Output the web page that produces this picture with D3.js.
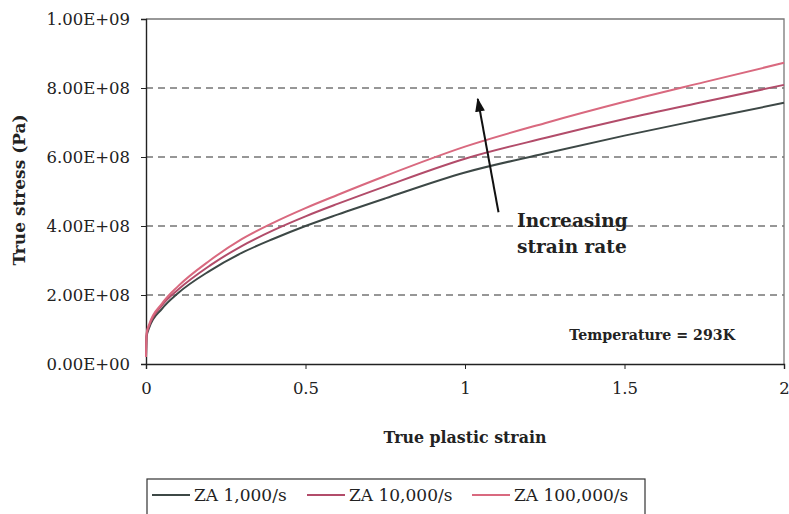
<!DOCTYPE html>
<html>
<head>
<meta charset="utf-8">
<script src="https://cdn.jsdelivr.net/npm/d3@7"></script>
<style>
  body { margin: 0; background: #fff; }
  svg { display: block; }
  text { font-family: "DejaVu Serif", "Liberation Serif", serif; fill: #222; }
</style>
</head>
<body>
<main></main>
<script>
// true plastic strain values
const strain = [0, 0.002, 0.01, 0.05, 0.1, 0.2, 0.3, 0.4, 0.5, 0.6, 0.75, 1.0, 1.25, 1.5, 1.75, 2.0];
// true stress (Pa)
const za1000 = [0.2e8, 0.8e8, 1.05e8, 1.6e8, 2.05e8, 2.7e8, 3.22e8, 3.63e8, 4.0e8, 4.33e8, 4.8e8, 5.55e8, 6.1e8, 6.62e8, 7.1e8, 7.57e8];
const za10000 = [0.2e8, 0.85e8, 1.1e8, 1.7e8, 2.15e8, 2.85e8, 3.42e8, 3.88e8, 4.28e8, 4.64e8, 5.15e8, 5.95e8, 6.55e8, 7.1e8, 7.6e8, 8.09e8];
const za100000 = [0.2e8, 0.9e8, 1.15e8, 1.75e8, 2.25e8, 3.0e8, 3.62e8, 4.1e8, 4.52e8, 4.9e8, 5.45e8, 6.3e8, 6.98e8, 7.6e8, 8.17e8, 8.73e8];
const seriesNames = ["ZA 1,000/s", "ZA 10,000/s", "ZA 100,000/s"];
const seriesColors = ["#3d4846", "#b24c6a", "#d9697f"];
const yTicks = [0, 2e8, 4e8, 6e8, 8e8, 1e9];
const xTicks = [0, 0.5, 1, 1.5, 2];

window.onload = () => {
    const width = 789, height = 514;
    const svg = d3.select("main").append("svg").attr("width", width).attr("height", height);

    const x = d3.scaleLinear().domain([0, 2]).range([146, 784]);
    const y = d3.scaleLinear().domain([0, 1e9]).range([364, 19]);

    // dashed gridlines
    svg.append("g")
        .selectAll("line")
        .data(yTicks.slice(1, -1))
        .join("line")
        .attr("x1", x(0)).attr("x2", x(2))
        .attr("y1", d => y(d)).attr("y2", d => y(d))
        .attr("stroke", "#2e2e2e")
        .attr("stroke-width", 1)
        .attr("stroke-dasharray", "7,5");

    // frame top and right
    svg.append("path")
        .attr("d", `M${x(0)},${y(1e9)}H${x(2)}V${y(0)}`)
        .attr("fill", "none")
        .attr("stroke", "#777")
        .attr("stroke-width", 1.3);

    const fmt = v => {
        const [m, e] = v.toExponential(2).split("e");
        const ex = Math.abs(+e).toString().padStart(2, "0");
        return m.toUpperCase() + "E" + (+e < 0 ? "-" : "+") + ex;
    };

    const yAxis = svg.append("g")
        .attr("transform", `translate(${x(0)},0)`)
        .call(d3.axisLeft(y).tickValues(yTicks).tickFormat(fmt).tickSize(5).tickPadding(11));
    const xAxis = svg.append("g")
        .attr("transform", `translate(0,${y(0)})`)
        .call(d3.axisBottom(x).tickValues(xTicks).tickFormat(d3.format("")).tickSize(5).tickPadding(13));

    [yAxis, xAxis].forEach(g => {
        g.select(".domain").attr("stroke", "#222").attr("stroke-width", 1.4);
        g.selectAll(".tick line").attr("stroke", "#222");
        g.selectAll("text")
            .attr("font-family", "'DejaVu Serif', serif")
            .attr("font-size", 16.5)
            .attr("fill", "#222");
    });

    // curves
    const series = [za1000, za10000, za100000];
    const line = d3.line()
        .x((d, i) => x(strain[i]))
        .y(d => y(d))
        .curve(d3.curveMonotoneX);

    svg.append("g")
        .selectAll("path")
        .data(series)
        .join("path")
        .attr("d", line)
        .attr("fill", "none")
        .attr("stroke", (d, i) => seriesColors[i])
        .attr("stroke-width", 2);

    // arrow
    svg.append("defs").append("marker")
        .attr("id", "head")
        .attr("viewBox", "0 0 10 10")
        .attr("refX", 9).attr("refY", 5)
        .attr("markerWidth", 7).attr("markerHeight", 8)
        .attr("orient", "auto")
        .append("path")
        .attr("d", "M0,1.5L10,5L0,8.5Z")
        .attr("fill", "#111");

    svg.append("line")
        .attr("x1", x(1.105)).attr("y1", y(4.4e8))
        .attr("x2", x(1.04)).attr("y2", y(7.68e8))
        .attr("stroke", "#111")
        .attr("stroke-width", 2)
        .attr("marker-end", "url(#head)");

    svg.append("text")
        .attr("x", 517).attr("y", 227)
        .attr("font-size", 18.5).attr("font-weight", "bold")
        .text("Increasing");
    svg.append("text")
        .attr("x", 517).attr("y", 253)
        .attr("font-size", 18.5).attr("font-weight", "bold")
        .text("strain rate");

    svg.append("text")
        .attr("x", 735).attr("y", 340)
        .attr("text-anchor", "end")
        .attr("font-size", 14.2).attr("font-weight", "bold")
        .text("Temperature = 293K");

    // axis titles
    svg.append("text")
        .attr("transform", "translate(25,190) rotate(-90)")
        .attr("text-anchor", "middle")
        .attr("font-size", 17).attr("font-weight", "bold")
        .text("True stress (Pa)");
    svg.append("text")
        .attr("x", 465).attr("y", 443)
        .attr("text-anchor", "middle")
        .attr("font-size", 15.8).attr("font-weight", "bold")
        .text("True plastic strain");

    // legend
    const legend = svg.append("g");
    legend.append("rect")
        .attr("x", 147).attr("y", 479)
        .attr("width", 498).attr("height", 40)
        .attr("fill", "#fff")
        .attr("stroke", "#333")
        .attr("stroke-width", 1.2);
    const legX = [152, 307, 472];
    const items = legend.selectAll("g.item")
        .data(seriesNames)
        .join("g")
        .attr("class", "item")
        .attr("transform", (d, i) => `translate(${legX[i]},0)`);
    items.append("line")
        .attr("x1", 0).attr("x2", 38)
        .attr("y1", 495).attr("y2", 495)
        .attr("stroke", (d, i) => seriesColors[i])
        .attr("stroke-width", 2);
    items.append("text")
        .attr("x", 42).attr("y", 501)
        .attr("font-size", 17)
        .text(d => d);
};
</script>
</body>
</html>
